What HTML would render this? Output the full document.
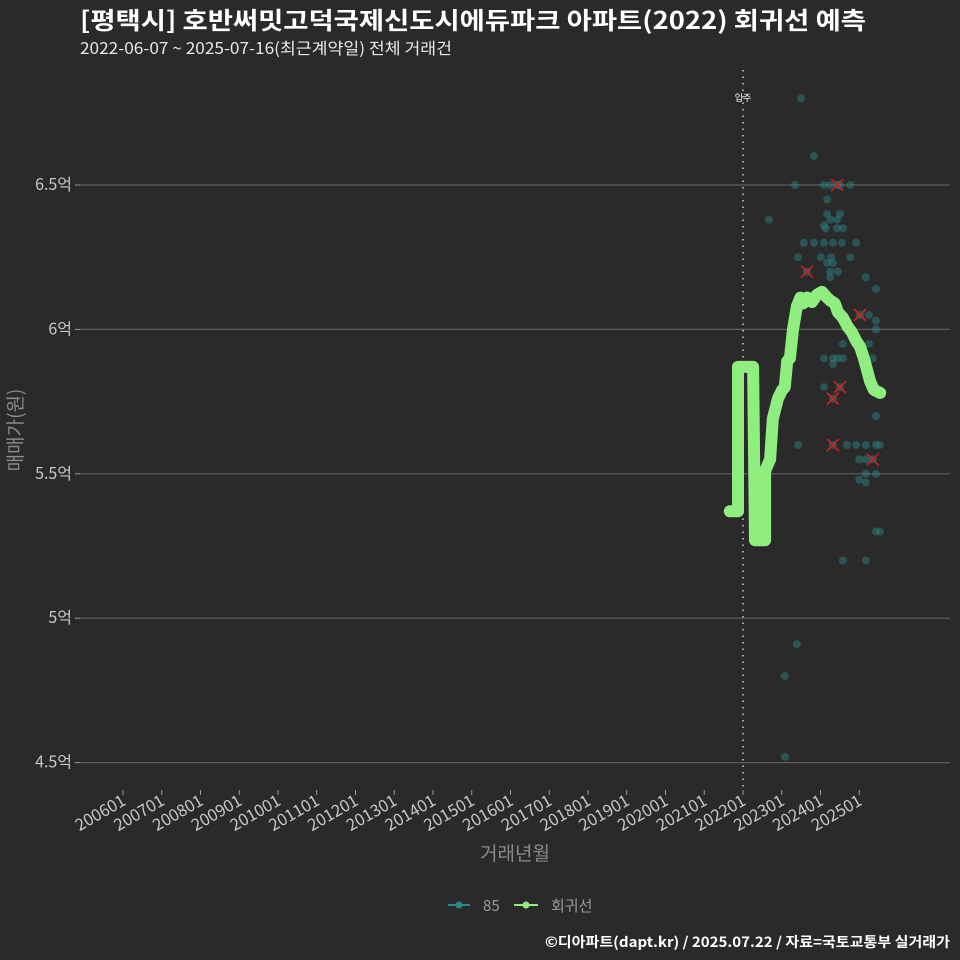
<!DOCTYPE html>
<html><head><meta charset="utf-8"><style>
html,body{margin:0;padding:0;background:#2b2a2b;}
svg{display:block;font-family:"Noto Sans CJK KR","Liberation Sans",sans-serif;}
</style></head><body>
<svg id="chart" width="960" height="960" viewBox="0 0 960 960">
<rect x="0" y="0" width="960" height="960" fill="#2b2a2b"/>
<text x="80" y="29" font-size="24" font-weight="bold" fill="#ffffff" textLength="786" lengthAdjust="spacingAndGlyphs">[평택시] 호반써밋고덕국제신도시에듀파크 아파트(2022) 회귀선 예측</text>
<text x="80" y="54" font-size="16" fill="#e8e8e8" textLength="372" lengthAdjust="spacingAndGlyphs">2022-06-07 ~ 2025-07-16(최근계약일) 전체 거래건</text>
<g id="grid"></g>
<g id="yaxis"></g>
<g id="xaxis"></g>
<g id="marks"></g>
<text transform="translate(22,430) rotate(-90)" text-anchor="middle" font-size="19" fill="#8a8a8a">매매가(원)</text>
<text x="515" y="860" text-anchor="middle" font-size="19" fill="#8a8a8a">거래년월</text>
<g>
  <g>
    <line x1="448" y1="905" x2="470" y2="905" stroke="#2a8a8a" stroke-width="2"/>
    <circle cx="459" cy="905" r="3.5" fill="#2a8a8a"/>
    <text x="483" y="911" font-size="15" fill="#9a9a9a">85</text>
  </g>
  <g>
    <line x1="514" y1="905" x2="538" y2="905" stroke="#90ee80" stroke-width="2"/>
    <circle cx="526" cy="905" r="3.5" fill="#90ee80"/>
    <text x="551" y="911" font-size="15" fill="#9a9a9a">회귀선</text>
  </g>
</g>
<text x="950" y="947" text-anchor="end" font-size="14" font-weight="bold" fill="#ffffff" textLength="405" lengthAdjust="spacingAndGlyphs">©디아파트(dapt.kr) / 2025.07.22 / 자료=국토교통부 실거래가</text>
</svg>
<script>
const yTicks = [4.5, 5, 5.5, 6, 6.5];
const yTickLabels = ["4.5억", "5억", "5.5억", "6억", "6.5억"];
const xTickYears = [2006,2007,2008,2009,2010,2011,2012,2013,2014,2015,2016,2017,2018,2019,2020,2021,2022,2023,2024,2025];
const xTickLabels = ["200601","200701","200801","200901","201001","201101","201201","201301","201401","201501","201601","201701","201801","201901","202001","202101","202201","202301","202401","202501"];
const moveInYear = 2022.0;
const moveInLabel = "입주";
const scatterYears = [2023.50,2023.83,2023.34,2024.09,2024.25,2024.50,2024.77,2024.17,2022.67,2024.17,2024.50,2024.25,2024.43,2024.09,2024.14,2024.43,2024.58,2023.57,2023.83,2024.09,2024.32,2024.55,2024.92,2023.42,2024.01,2024.27,2024.77,2024.17,2024.32,2024.25,2024.45,2024.25,2025.17,2025.43,2025.25,2025.43,2025.43,2024.58,2025.25,2024.09,2024.32,2024.45,2024.58,2024.32,2025.35,2024.09,2025.43,2023.42,2024.68,2024.92,2025.17,2025.43,2025.53,2025.0,2025.17,2025.17,2025.43,2025.0,2025.17,2025.43,2025.53,2024.58,2025.17,2023.39,2023.08,2023.08];
const scatterPrices = [6.80,6.60,6.50,6.50,6.50,6.50,6.50,6.45,6.38,6.40,6.40,6.38,6.38,6.36,6.35,6.35,6.35,6.30,6.30,6.30,6.30,6.30,6.30,6.25,6.25,6.25,6.25,6.23,6.23,6.20,6.20,6.18,6.18,6.14,6.05,6.03,6.00,5.95,5.95,5.90,5.90,5.90,5.90,5.88,5.90,5.80,5.70,5.60,5.60,5.60,5.60,5.60,5.60,5.55,5.55,5.50,5.50,5.48,5.47,5.30,5.30,5.20,5.20,4.91,4.80,4.52];
const highlightYears = [2023.65,2024.43,2024.32,2024.50,2024.32,2025.35,2025.02];
const highlightPrices = [6.20,6.50,5.76,5.80,5.60,5.55,6.05];
const regYears = [2021.66,2021.87,2021.87,2022.26,2022.31,2022.57,2022.57,2022.70,2022.77,2022.90,2023.01,2023.08,2023.14,2023.21,2023.29,2023.39,2023.48,2023.55,2023.66,2023.78,2023.91,2024.04,2024.17,2024.25,2024.37,2024.45,2024.58,2024.70,2024.81,2024.92,2025.02,2025.12,2025.20,2025.28,2025.38,2025.54];
const regPrices = [5.37,5.37,5.87,5.87,5.27,5.27,5.51,5.55,5.69,5.76,5.79,5.80,5.89,5.90,6.00,6.08,6.11,6.09,6.11,6.095,6.12,6.13,6.11,6.10,6.09,6.06,6.04,6.01,5.99,5.96,5.94,5.90,5.86,5.82,5.79,5.78];

const NS = "http://www.w3.org/2000/svg";
const xs = y => 123 + (y - 2006) * 38.75;
const ys = p => 185 + (6.5 - p) * 288.8;
function mk(tag, attrs, parent) {
  const el = document.createElementNS(NS, tag);
  for (const k in attrs) el.setAttribute(k, attrs[k]);
  parent.appendChild(el);
  return el;
}
const grid = document.getElementById('grid');
const yaxis = document.getElementById('yaxis');
const xaxis = document.getElementById('xaxis');
const marks = document.getElementById('marks');

yTicks.forEach((v, i) => {
  const g = mk('line', {x1: 80, x2: 950, y1: ys(v), y2: ys(v), stroke: '#5e5e5e', 'stroke-width': 1.2}, grid);
  
  
  const t = mk('line', {x1: 75, x2: 80, y1: ys(v), y2: ys(v), stroke: '#9a9a9a', 'stroke-width': 1}, yaxis);
  
  
  const l = mk('text', {x: 72, y: ys(v) + 5, 'text-anchor': 'end', 'font-size': 16, fill: '#c8c8c8'}, yaxis);
  l.textContent = yTickLabels[i];
  
  
});

xTickYears.forEach((yr, i) => {
  const x = xs(yr);
  const t = mk('line', {x1: x, x2: x, y1: 790, y2: 795, stroke: '#9a9a9a', 'stroke-width': 1}, xaxis);
  
  
  const l = mk('text', {x: x + 4, y: 804, 'text-anchor': 'end', 'font-size': 16.5, fill: '#c8c8c8', transform: `rotate(-30 ${x + 4} 804)`}, xaxis);
  l.textContent = xTickLabels[i];
  
  
});

const mv = mk('line', {x1: xs(moveInYear), x2: xs(moveInYear), y1: 70, y2: 790, stroke: '#cfcfcf', 'stroke-width': 1.5, 'stroke-dasharray': '1.5 5'}, marks);


const mvl = mk('text', {x: xs(moveInYear), y: 101, 'text-anchor': 'middle', 'font-size': 9, fill: '#ffffff'}, marks);
mvl.textContent = moveInLabel;



scatterYears.forEach((yr, i) => {
  const c = mk('circle', {cx: xs(yr), cy: ys(scatterPrices[i]), r: 4, fill: '#2a8a8a', 'fill-opacity': 0.45}, marks);
  
  
});
highlightYears.forEach((yr, i) => {
  const x = xs(yr), y = ys(highlightPrices[i]);
  const g = mk('g', {}, marks);
  
  
  mk('circle', {cx: x, cy: y, r: 4, fill: '#2a8a8a', 'fill-opacity': 0.45}, g);
  mk('path', {d: `M${x-6} ${y-6}L${x+6} ${y+6}M${x-6} ${y+6}L${x+6} ${y-6}`, stroke: '#d42020', 'stroke-width': 1.5}, g);
});
const pts = regYears.map((yr, i) => xs(yr).toFixed(1) + ',' + ys(regPrices[i]).toFixed(1)).join(' ');
const reg = mk('polyline', {points: pts, fill: 'none', stroke: '#90ee80', 'stroke-width': 12, 'stroke-linejoin': 'round', 'stroke-linecap': 'round'}, marks);


</script>
</body></html>
